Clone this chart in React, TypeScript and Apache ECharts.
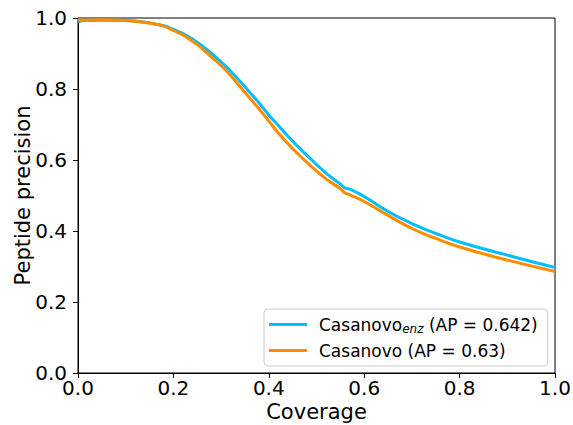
import React, { useEffect, useRef } from "react";
import * as echarts from "echarts";

const coverage = [0, 0.01, 0.05, 0.1, 0.15, 0.18, 0.2, 0.22, 0.25, 0.28, 0.3, 0.32, 0.35, 0.38, 0.4, 0.42, 0.45, 0.48, 0.52, 0.55, 0.56, 0.57, 0.6, 0.65, 0.7, 0.75, 0.8, 0.9, 1.0];
const enzPrecision = [0.988, 0.993, 0.994, 0.993, 0.986, 0.978, 0.968, 0.956, 0.932, 0.9, 0.876, 0.85, 0.806, 0.76, 0.727, 0.697, 0.653, 0.613, 0.563, 0.532, 0.521, 0.518, 0.497, 0.455, 0.421, 0.393, 0.369, 0.332, 0.297];
const basePrecision = [0.998, 0.994, 0.995, 0.993, 0.986, 0.977, 0.965, 0.952, 0.925, 0.89, 0.866, 0.838, 0.79, 0.743, 0.71, 0.676, 0.632, 0.593, 0.547, 0.519, 0.507, 0.502, 0.483, 0.444, 0.407, 0.379, 0.355, 0.318, 0.286];
const seriesNames = ["enz", "base"];
const legendLabels = ["Casanovo{sub|enz} (AP = 0.642)", "Casanovo (AP = 0.63)"];
const colors = ["#00bfff", "#ff8c00"];

export default function App() {
  const ref = useRef<HTMLDivElement>(null);
  useEffect(() => {
    const chart = echarts.init(ref.current!, null, { renderer: "svg" });
    const font = "DejaVu Sans";
    const mk = (ys: number[]) => coverage.map((x, i) => [x, ys[i]]);
    chart.setOption({
      animation: false,
      textStyle: { fontFamily: font },
      grid: { left: 78, right: 18, top: 18, bottom: 52, show: true, borderColor: "#000", borderWidth: 1, containLabel: false, outerBoundsMode: "none" },
      xAxis: {
        type: "value", min: 0, max: 1, interval: 0.2,
        name: "Coverage", nameLocation: "middle", nameGap: 28, nameMoveOverlap: false,
        nameTextStyle: { fontSize: 21, color: "#000", fontFamily: font },
        axisLine: { show: true, onZero: false, lineStyle: { color: "#000" } },
        axisTick: { show: true, length: 5, lineStyle: { color: "#000" } },
        axisLabel: { fontSize: 20, color: "#000", margin: 5, formatter: (v: number) => v.toFixed(1), fontFamily: font },
        splitLine: { show: false },
      },
      yAxis: {
        type: "value", min: 0, max: 1, interval: 0.2,
        name: "Peptide precision", nameLocation: "middle", nameGap: 45, nameMoveOverlap: false,
        nameTextStyle: { fontSize: 21, color: "#000", fontFamily: font },
        axisLine: { show: true, onZero: false, lineStyle: { color: "#000" } },
        axisTick: { show: true, length: 5, lineStyle: { color: "#000" } },
        axisLabel: { fontSize: 20, color: "#000", margin: 11, formatter: (v: number) => v.toFixed(1), fontFamily: font },
        splitLine: { show: false },
      },
      legend: {
        orient: "vertical", left: 264, top: 309,
        data: seriesNames.map((n) => ({ name: n, icon: "rect" })),
        itemWidth: 38, itemHeight: 3, itemGap: 7,
        padding: [7, 10, 7, 5],
        borderColor: "#ccc", borderWidth: 1, borderRadius: 4, backgroundColor: "#fff",
        formatter: (n: string) => legendLabels[seriesNames.indexOf(n)],
        textStyle: {
          fontSize: 17, color: "#000", fontFamily: font, padding: [0, 0, 0, 7],
          rich: { sub: { fontSize: 12, fontStyle: "italic", fontFamily: font, color: "#000", padding: [9, 0, 0, 0] } },
        },
      },
      series: [
        { name: seriesNames[0], type: "line", data: mk(enzPrecision), smooth: 0.5, showSymbol: false, lineStyle: { width: 3, color: colors[0] }, itemStyle: { color: colors[0] } },
        { name: seriesNames[1], type: "line", data: mk(basePrecision), smooth: 0.5, showSymbol: false, lineStyle: { width: 3, color: colors[1] }, itemStyle: { color: colors[1] } },
      ],
    });
    return () => chart.dispose();
  }, []);
  return <div ref={ref} style={{ width: 573, height: 425, position: "absolute", left: 0, top: 0 }} />;
}
